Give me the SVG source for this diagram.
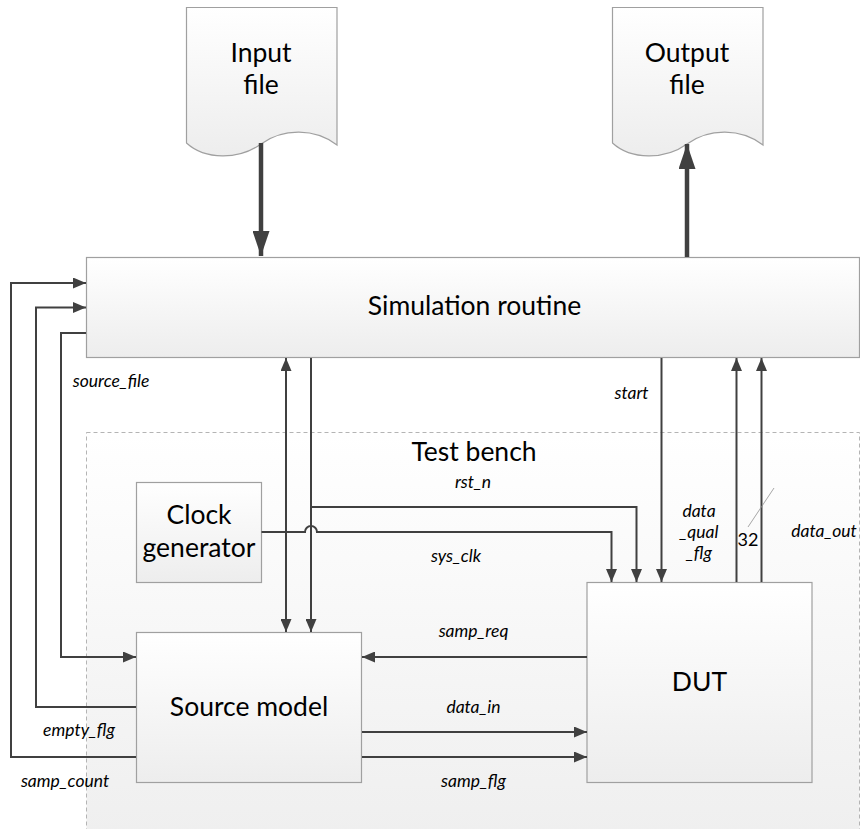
<svg xmlns="http://www.w3.org/2000/svg" width="860" height="829" viewBox="0 0 860 829">
<defs>
<linearGradient id="gBox" x1="0" y1="0" x2="0" y2="1">
<stop offset="0" stop-color="#ffffff"/>
<stop offset="1" stop-color="#ededed"/>
</linearGradient>
<linearGradient id="gBench" x1="0" y1="0" x2="0" y2="1">
<stop offset="0" stop-color="#ffffff"/>
<stop offset="1" stop-color="#efefef"/>
</linearGradient>
<marker id="arr" markerUnits="userSpaceOnUse" markerWidth="13" markerHeight="11" refX="13" refY="5.5" orient="auto-start-reverse" viewBox="0 0 13 11">
<path d="M0,0 L13,5.5 L0,11 Z" fill="#404040"/>
</marker>
<marker id="arrBig" markerUnits="userSpaceOnUse" markerWidth="25" markerHeight="17" refX="25" refY="8.5" orient="auto" viewBox="0 0 25 17">
<path d="M0,0 L25,8.5 L0,17 Z" fill="#404040"/>
</marker>
</defs>
<style>
.box{fill:url(#gBox);stroke:#a0a0a0;stroke-width:1.2}
.title{font-family:Lato,"Liberation Sans",sans-serif;font-size:26.5px;fill:#000;text-anchor:middle}
.lbl{font-family:Lato,"Liberation Sans",sans-serif;font-style:italic;font-size:17.5px;fill:#000;text-anchor:middle}
.num{font-family:Lato,"Liberation Sans",sans-serif;font-size:18px;fill:#000;text-anchor:middle}
.wire{fill:none;stroke:#404040;stroke-width:2}
.thick{fill:none;stroke:#404040;stroke-width:4.5}
</style>

<g id="test-bench">
<rect x="86.5" y="432.5" width="773" height="400" fill="url(#gBench)" stroke="#b4b4b4" stroke-width="1" stroke-dasharray="4,3"/>
<text class="title" x="474" y="461">Test bench</text>
</g>

<g id="simulation-routine">
<rect class="box" x="86.5" y="257.5" width="773" height="100"/>
<text class="title" x="474.5" y="315">Simulation routine</text>
</g>

<g id="input-file">
<path class="box" d="M186.5,7.5 H337 V145 C315,128 283,128 261,144 C239,160 205,160 186.5,143 Z"/>
<text class="title" x="261" y="62">Input</text>
<text class="title" x="261" y="94">file</text>
</g>

<g id="output-file">
<path class="box" d="M612.5,7.5 H763 V145 C741,128 709,128 687,144 C665,160 631,160 612.5,143 Z"/>
<text class="title" x="687" y="62">Output</text>
<text class="title" x="687" y="94">file</text>
</g>

<g id="clock-generator">
<rect class="box" x="136.5" y="482.5" width="125" height="100"/>
<text class="title" x="199" y="524">Clock</text>
<text class="title" x="199" y="557">generator</text>
</g>

<g id="source-model">
<rect class="box" x="136.5" y="632.5" width="225" height="150"/>
<text class="title" x="249" y="716">Source model</text>
</g>

<g id="dut">
<rect class="box" x="587" y="582.5" width="225" height="200"/>
<text class="title" x="699.5" y="691">DUT</text>
</g>

<g id="connectors">
<path class="thick" d="M261,143 V256" marker-end="url(#arrBig)"/>
<path class="thick" d="M687,257 V144" marker-end="url(#arrBig)"/>
<path class="wire" d="M136,757 H11 V283 H86" marker-end="url(#arr)"/>
<path class="wire" d="M136,707 H36 V307.5 H86" marker-end="url(#arr)"/>
<path class="wire" d="M86,333 H61 V657 H136" marker-end="url(#arr)"/>
<path class="wire" d="M286,358 V632" marker-start="url(#arr)" marker-end="url(#arr)"/>
<path class="wire" d="M311,358 V632" marker-end="url(#arr)"/>
<path class="wire" d="M311,507 H636.5 V582" marker-end="url(#arr)"/>
<path class="wire" d="M261.5,532 H305 A6,6 0 0 1 317,532 H611.5 V582" marker-end="url(#arr)"/>
<path class="wire" d="M661.5,358 V582" marker-end="url(#arr)"/>
<path class="wire" d="M736.5,582 V358" marker-end="url(#arr)"/>
<path class="wire" d="M761.5,582 V358" marker-end="url(#arr)"/>
<path class="wire" d="M587,657 H362" marker-end="url(#arr)"/>
<path class="wire" d="M362,732 H587" marker-end="url(#arr)"/>
<path class="wire" d="M362,757 H587" marker-end="url(#arr)"/>
<path d="M748,527 L774,488" fill="none" stroke="#909090" stroke-width="0.8"/>
</g>

<g id="labels">
<text class="lbl" x="111" y="387">source_file</text>
<text class="lbl" x="79" y="736">empty_flg</text>
<text class="lbl" x="65" y="787">samp_count</text>
<text class="lbl" x="473" y="488">rst_n</text>
<text class="lbl" x="456" y="562">sys_clk</text>
<text class="lbl" x="631.5" y="399">start</text>
<text class="lbl" x="699" y="517">data</text>
<text class="lbl" x="699" y="538">_qual</text>
<text class="lbl" x="699" y="559">_flg</text>
<text class="num" x="748" y="546">32</text>
<text class="lbl" x="824" y="537">data_out</text>
<text class="lbl" x="473.5" y="637">samp_req</text>
<text class="lbl" x="473.5" y="713">data_in</text>
<text class="lbl" x="473.5" y="787">samp_flg</text>
</g>
</svg>
